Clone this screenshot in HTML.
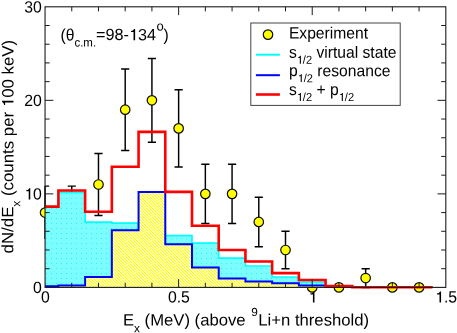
<!DOCTYPE html>
<html><head><meta charset="utf-8"><title>chart</title>
<style>
html,body{margin:0;padding:0;background:#fff;}
body{width:457px;height:333px;overflow:hidden;font-family:"Liberation Sans",sans-serif;}
svg{display:block;will-change:transform;font-family:"Liberation Sans",sans-serif;}
text{fill:#000;font-kerning:none;white-space:pre;}
</style></head><body>
<svg width="457" height="333" viewBox="0 0 457 333">
<defs>
<pattern id="hy" width="3" height="3" patternUnits="userSpaceOnUse" x="0" y="0" shape-rendering="crispEdges"><rect x="0" y="0" width="1" height="1" fill="#ffffff"/><rect x="1" y="0" width="1" height="1" fill="#ffff00"/><rect x="2" y="0" width="1" height="1" fill="#ffff78"/><rect x="0" y="1" width="1" height="1" fill="#ffff78"/><rect x="1" y="1" width="1" height="1" fill="#ffffff"/><rect x="2" y="1" width="1" height="1" fill="#ffff00"/><rect x="0" y="2" width="1" height="1" fill="#ffff00"/><rect x="1" y="2" width="1" height="1" fill="#ffff78"/><rect x="2" y="2" width="1" height="1" fill="#ffffff"/></pattern>
<pattern id="cd" width="5" height="5" patternUnits="userSpaceOnUse" x="1" y="3">
<rect x="0" y="0" width="5" height="5" fill="#7bfdfd"/>
<rect x="0" y="0" width="1" height="1" fill="#2cf0fc"/>
</pattern>
</defs>
<rect x="0" y="0" width="457" height="333" fill="#ffffff"/>

<g id="ty0" transform="translate(41.90,293.00) scale(0.97,1) rotate(0.05)"><text font-size="16.3px"><tspan x="-9.07" y="0.00" font-size="16.3px">0</tspan></text></g>
<g id="ty10" transform="translate(41.90,199.47) scale(0.97,1) rotate(0.05)"><path transform="translate(-18.13,0.00) scale(0.007959,-0.007959)" d="M772 0H570V1030H250V1160C450 1160 560 1260 625 1409H772Z"/><text font-size="16.3px"><tspan x="-9.07" y="0.00" font-size="16.3px">0</tspan></text></g>
<g id="ty20" transform="translate(41.90,105.93) scale(0.97,1) rotate(0.05)"><text font-size="16.3px"><tspan x="-18.13" y="0.00" font-size="16.3px">20</tspan></text></g>
<g id="ty30" transform="translate(41.90,12.40) scale(0.97,1) rotate(0.05)"><text font-size="16.3px"><tspan x="-18.13" y="0.00" font-size="16.3px">30</tspan></text></g>
<g id="tx0" transform="translate(45.35,302.60) scale(0.97,1) rotate(0.05)"><text font-size="16.3px"><tspan x="-4.53" y="0.00" font-size="16.3px">0</tspan></text></g>
<g id="tx5" transform="translate(178.93,302.60) scale(0.97,1) rotate(0.05)"><text font-size="16.3px"><tspan x="-11.33" y="0.00" font-size="16.3px">0.5</tspan></text></g>
<g id="tx10" transform="translate(312.92,302.60) scale(0.97,1) rotate(0.05)"><path transform="translate(-4.53,0.00) scale(0.007959,-0.007959)" d="M772 0H570V1030H250V1160C450 1160 560 1260 625 1409H772Z"/><text font-size="16.3px"></text></g>
<g id="tx15" transform="translate(446.10,302.60) scale(0.97,1) rotate(0.05)"><path transform="translate(-11.33,0.00) scale(0.007959,-0.007959)" d="M772 0H570V1030H250V1160C450 1160 560 1260 625 1409H772Z"/><text font-size="16.3px"><tspan x="-2.26" y="0.00" font-size="16.3px">.5</tspan></text></g>
<g stroke="#000" stroke-width="1.45" fill="none">
<path d="M45.05,186.12V239.03M45.05,186.12h4.1M45.05,239.03h4.1"/>
<path d="M71.77,186.12V239.03M67.67,186.12h8.2M67.67,239.03h8.2"/>
<path d="M98.48,153.49V215.53M94.38,153.49h8.2M94.38,215.53h8.2"/>
<path d="M125.20,68.92V150.46M121.10,68.92h8.2M121.10,150.46h8.2"/>
<path d="M151.92,58.50V142.16M147.82,58.50h8.2M147.82,142.16h8.2"/>
<path d="M178.63,89.83V166.96M174.53,89.83h8.2M174.53,166.96h8.2"/>
<path d="M205.35,164.29V223.44M201.25,164.29h8.2M201.25,223.44h8.2"/>
<path d="M232.07,164.29V223.44M227.97,164.29h8.2M227.97,223.44h8.2"/>
<path d="M258.78,197.18V246.67M254.68,197.18h8.2M254.68,246.67h8.2"/>
<path d="M285.50,231.28V268.69M281.40,231.28h8.2M281.40,268.69h8.2"/>
<path d="M365.65,268.69V287.40M361.55,268.69h8.2M361.55,287.40h8.2"/>
</g>
<g stroke="#0a0a0a" stroke-width="1.2" fill="#ffff00">
<circle cx="45.05" cy="212.57" r="4.75"/>
<circle cx="71.77" cy="212.57" r="4.75"/>
<circle cx="98.48" cy="184.51" r="4.75"/>
<circle cx="125.20" cy="109.69" r="4.75"/>
<circle cx="151.92" cy="100.33" r="4.75"/>
<circle cx="178.63" cy="128.39" r="4.75"/>
<circle cx="205.35" cy="193.87" r="4.75"/>
<circle cx="232.07" cy="193.87" r="4.75"/>
<circle cx="258.78" cy="221.93" r="4.75"/>
<circle cx="285.50" cy="249.99" r="4.75"/>
<circle cx="312.22" cy="287.40" r="4.75"/>
<circle cx="338.93" cy="287.40" r="4.75"/>
<circle cx="365.65" cy="278.05" r="4.75"/>
<circle cx="392.37" cy="287.40" r="4.75"/>
<circle cx="419.08" cy="287.40" r="4.75"/>
</g>
<polygon points="45.05,206.60 58.41,206.60 58.41,192.40 85.12,192.40 85.12,222.20 111.84,222.20 111.84,223.20 138.56,223.20 138.56,227.00 165.28,227.00 165.28,235.70 191.99,235.70 191.99,243.20 218.71,243.20 218.71,258.10 245.43,258.10 245.43,266.00 272.14,266.00 272.14,277.00 298.86,277.00 298.86,282.00 325.58,282.00 325.58,286.30 352.29,286.30 352.29,287.10 379.01,287.10 379.01,287.10 405.73,287.10 405.73,287.10 432.44,287.10 432.44,287.40 45.05,287.40" fill="url(#cd)" stroke="none"/>
<polyline points="45.05,206.60 58.41,206.60 58.41,192.40 85.12,192.40 85.12,222.20 111.84,222.20 111.84,223.20 138.56,223.20 138.56,227.00 165.28,227.00 165.28,235.70 191.99,235.70 191.99,243.20 218.71,243.20 218.71,258.10 245.43,258.10 245.43,266.00 272.14,266.00 272.14,277.00 298.86,277.00 298.86,282.00 325.58,282.00 325.58,286.30 352.29,286.30 352.29,287.10 379.01,287.10 379.01,287.10 405.73,287.10 405.73,287.10 432.44,287.10" fill="none" stroke="#00ffff" stroke-width="1.7"/>
<clipPath id="cb"><polygon points="45.05,286.20 58.41,286.20 58.41,285.40 85.12,285.40 85.12,277.00 111.84,277.00 111.84,230.20 138.56,230.20 138.56,191.90 165.28,191.90 165.28,244.30 191.99,244.30 191.99,267.60 218.71,267.60 218.71,278.40 245.43,278.40 245.43,281.40 272.14,281.40 272.14,283.30 298.86,283.30 298.86,285.60 325.58,285.60 325.58,286.60 352.29,286.60 352.29,287.10 379.01,287.10 379.01,287.10 405.73,287.10 405.73,287.10 432.44,287.10 432.44,287.40 45.05,287.40"/></clipPath>
<polygon points="45.05,286.20 58.41,286.20 58.41,285.40 85.12,285.40 85.12,277.00 111.84,277.00 111.84,230.20 138.56,230.20 138.56,191.90 165.28,191.90 165.28,244.30 191.99,244.30 191.99,267.60 218.71,267.60 218.71,278.40 245.43,278.40 245.43,281.40 272.14,281.40 272.14,283.30 298.86,283.30 298.86,285.60 325.58,285.60 325.58,286.60 352.29,286.60 352.29,287.10 379.01,287.10 379.01,287.10 405.73,287.10 405.73,287.10 432.44,287.10 432.44,287.40 45.05,287.40" fill="#ffffff" stroke="none"/>
<polygon points="45.05,286.20 58.41,286.20 58.41,285.40 85.12,285.40 85.12,277.00 111.84,277.00 111.84,230.20 138.56,230.20 138.56,191.90 165.28,191.90 165.28,244.30 191.99,244.30 191.99,267.60 218.71,267.60 218.71,278.40 245.43,278.40 245.43,281.40 272.14,281.40 272.14,283.30 298.86,283.30 298.86,285.60 325.58,285.60 325.58,286.60 352.29,286.60 352.29,287.10 379.01,287.10 379.01,287.10 405.73,287.10 405.73,287.10 432.44,287.10 432.44,287.40 45.05,287.40" fill="url(#hy)" stroke="none"/>
<polyline points="45.05,286.20 58.41,286.20 58.41,285.40 85.12,285.40 85.12,277.00 111.84,277.00 111.84,230.20 138.56,230.20 138.56,191.90 165.28,191.90 165.28,244.30 191.99,244.30 191.99,267.60 218.71,267.60 218.71,278.40 245.43,278.40 245.43,281.40 272.14,281.40 272.14,283.30 298.86,283.30 298.86,285.60 325.58,285.60 325.58,286.60 352.29,286.60 352.29,287.10 379.01,287.10 379.01,287.10 405.73,287.10 405.73,287.10 432.44,287.10" fill="none" stroke="#0000ff" stroke-width="2" stroke-linejoin="miter"/>
<polyline points="45.05,206.60 58.41,206.60 58.41,190.50 85.12,190.50 85.12,211.80 111.84,211.80 111.84,166.80 138.56,166.80 138.56,131.90 165.28,131.90 165.28,191.90 191.99,191.90 191.99,225.70 218.71,225.70 218.71,250.00 245.43,250.00 245.43,261.50 272.14,261.50 272.14,273.10 298.86,273.10 298.86,280.00 325.58,280.00 325.58,286.10 352.29,286.10 352.29,287.30 379.01,287.30 379.01,287.30 405.73,287.30 405.73,287.30 432.44,287.30" fill="none" stroke="#ff0000" stroke-width="2.6" stroke-linejoin="miter"/>
<g stroke="#1a1a1a" stroke-width="1.1" fill="none">
<rect x="45.05" y="6.8" width="400.75" height="280.60"/>
<path d="M71.77,287.4v-4.6M71.77,6.8v4.6M98.48,287.4v-4.6M98.48,6.8v4.6M125.20,287.4v-4.6M125.20,6.8v4.6M151.92,287.4v-4.6M151.92,6.8v4.6M178.63,287.4v-8.3M178.63,6.8v8.3M205.35,287.4v-4.6M205.35,6.8v4.6M232.07,287.4v-4.6M232.07,6.8v4.6M258.78,287.4v-4.6M258.78,6.8v4.6M285.50,287.4v-4.6M285.50,6.8v4.6M312.22,287.4v-8.3M312.22,6.8v8.3M338.93,287.4v-4.6M338.93,6.8v4.6M365.65,287.4v-4.6M365.65,6.8v4.6M392.37,287.4v-4.6M392.37,6.8v4.6M419.08,287.4v-4.6M419.08,6.8v4.6M45.05,268.69h4.6M445.8,268.69h-4.6M45.05,249.99h4.6M445.8,249.99h-4.6M45.05,231.28h4.6M445.8,231.28h-4.6M45.05,212.57h4.6M445.8,212.57h-4.6M45.05,193.87h8.3M445.8,193.87h-8.3M45.05,175.16h4.6M445.8,175.16h-4.6M45.05,156.45h4.6M445.8,156.45h-4.6M45.05,137.75h4.6M445.8,137.75h-4.6M45.05,119.04h4.6M445.8,119.04h-4.6M45.05,100.33h8.3M445.8,100.33h-8.3M45.05,81.63h4.6M445.8,81.63h-4.6M45.05,62.92h4.6M445.8,62.92h-4.6M45.05,44.21h4.6M445.8,44.21h-4.6M45.05,25.51h4.6M445.8,25.51h-4.6" stroke-width="1"/>
</g>
<g id="xl" transform="translate(122.90,325.40) scale(1.012,1) rotate(0.05)"><text font-size="16.5px"><tspan x="0.00" y="0.00" font-size="16.5px">E</tspan><tspan x="11.01" y="6.80" font-size="11.7px">x</tspan><tspan x="21.44" y="0.00" font-size="16.5px">(MeV) (above </tspan><tspan x="126.87" y="-9.40" font-size="11.7px">9</tspan><tspan x="133.78" y="0.00" font-size="16.5px">Li+n threshold)</tspan></text></g>
<g id="yl" transform="translate(13.30,253.40) rotate(-90) scale(1.02,1) rotate(0.05)"><path transform="translate(143.42,0.00) scale(0.008057,-0.008057)" d="M772 0H570V1030H250V1160C450 1160 560 1260 625 1409H772Z"/><text font-size="16.5px"><tspan x="0.00" y="0.00" font-size="16.5px">dN/dE</tspan><tspan x="45.86" y="6.80" font-size="11.7px">x</tspan><tspan x="56.29" y="0.00" font-size="16.5px">(counts per </tspan><tspan x="152.59" y="0.00" font-size="16.5px">00 keV)</tspan></text></g>
<g id="an1" transform="translate(60.60,40.60) scale(0.95,1) rotate(0.05)"><text font-size="16.5px"><tspan x="0.00" y="0.00" font-size="16.5px">(θ</tspan></text></g>
<g id="an2" transform="translate(74.40,46.60) scale(0.95,1) rotate(0.05)"><text font-size="12.1px"><tspan x="0.00" y="0.00" font-size="12.1px">c.m.</tspan></text></g>
<g id="an3" transform="translate(96.10,40.10) scale(0.995,1) rotate(0.05)"><path transform="translate(33.08,0.00) scale(0.007959,-0.007959)" d="M772 0H570V1030H250V1160C450 1160 560 1260 625 1409H772Z"/><text font-size="16.3px"><tspan x="0.00" y="0.00" font-size="16.3px">=98-</tspan><tspan x="42.14" y="0.00" font-size="16.3px">34</tspan></text></g>
<g id="an4" transform="translate(156.40,30.40) scale(1.0,1) rotate(0.05)"><text font-size="13.0px"><tspan x="0.00" y="0.00" font-size="13.0px">o</tspan></text></g>
<g id="an5" transform="translate(163.60,40.60) scale(0.95,1) rotate(0.05)"><text font-size="16.5px"><tspan x="0.00" y="0.00" font-size="16.5px">)</tspan></text></g>
<rect x="250.8" y="23" width="149.4" height="82.4" fill="#fff" stroke="#444" stroke-width="1"/>
<circle cx="268" cy="34.6" r="4.75" fill="#ffff00" stroke="#0a0a0a" stroke-width="1.2"/>
<path d="M255.9,54.7H279.9" stroke="#00ffff" stroke-width="2"/>
<path d="M255.9,75.2H279.9" stroke="#0000ff" stroke-width="2"/>
<path d="M255.9,94.5H279.9" stroke="#ff0000" stroke-width="2.6"/>
<g id="l1" transform="translate(288.90,38.50) scale(0.955,1) rotate(0.05)"><text font-size="16.4px"><tspan x="0.00" y="0.00" font-size="16.4px">Experiment</tspan></text></g>
<g id="l2" transform="translate(288.90,57.70) scale(0.955,1) rotate(0.05)"><path transform="translate(8.20,6.00) scale(0.005664,-0.005664)" d="M772 0H570V1030H250V1160C450 1160 560 1260 625 1409H772Z"/><text font-size="16.4px"><tspan x="0.00" y="0.00" font-size="16.4px">s</tspan><tspan x="14.65" y="6.00" font-size="11.6px">/2</tspan><tspan x="28.88" y="0.00" font-size="16.4px">virtual state</tspan></text></g>
<g id="l3" transform="translate(288.90,76.10) scale(0.955,1) rotate(0.05)"><path transform="translate(9.12,6.00) scale(0.005664,-0.005664)" d="M772 0H570V1030H250V1160C450 1160 560 1260 625 1409H772Z"/><text font-size="16.4px"><tspan x="0.00" y="0.00" font-size="16.4px">p</tspan><tspan x="15.57" y="6.00" font-size="11.6px">/2</tspan><tspan x="29.80" y="0.00" font-size="16.4px">resonance</tspan></text></g>
<g id="l4" transform="translate(288.90,94.90) scale(0.955,1) rotate(0.05)"><path transform="translate(8.20,6.00) scale(0.005664,-0.005664)" d="M772 0H570V1030H250V1160C450 1160 560 1260 625 1409H772Z"/><path transform="translate(52.14,6.00) scale(0.005664,-0.005664)" d="M772 0H570V1030H250V1160C450 1160 560 1260 625 1409H772Z"/><text font-size="16.4px"><tspan x="0.00" y="0.00" font-size="16.4px">s</tspan><tspan x="14.65" y="6.00" font-size="11.6px">/2</tspan><tspan x="28.88" y="0.00" font-size="16.4px">+ p</tspan><tspan x="58.59" y="6.00" font-size="11.6px">/2</tspan></text></g>
</svg></body></html>
